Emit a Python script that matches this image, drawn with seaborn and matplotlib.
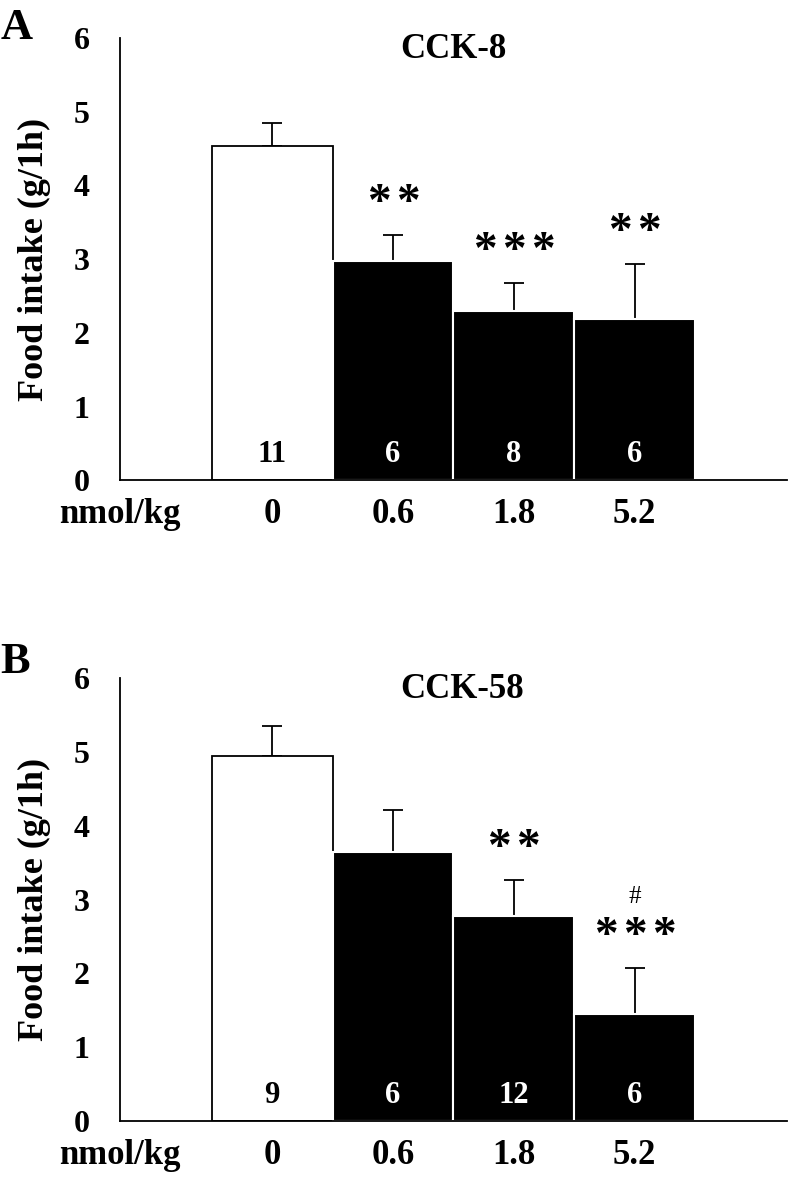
import matplotlib
matplotlib.use("Agg")
import matplotlib.pyplot as plt
import seaborn as sns
import numpy as np

doses = ["0", "0.6", "1.8", "5.2"]

cck8_mean = [4.53, 2.97, 2.29, 2.19]
cck8_err = [0.32, 0.36, 0.38, 0.74]
cck8_n = ["11", "6", "8", "6"]
cck8_sig = ["", "**", "***", "**"]

cck58_mean = [4.95, 3.64, 2.78, 1.45]
cck58_err = [0.40, 0.57, 0.49, 0.63]
cck58_n = ["9", "6", "12", "6"]
cck58_sig = ["", "", "**", "***"]
cck58_hash = ["", "", "", "#"]

bar_colors = ["white", "black", "black", "black"]

sns.set_theme(style="white")
plt.rcParams["font.family"] = ["Liberation Serif", "DejaVu Serif"]
plt.rcParams["font.weight"] = "bold"
for key in ["text.color", "axes.labelcolor", "xtick.color", "ytick.color"]:
    plt.rcParams[key] = "black"

XLEFT, XRIGHT = -1.26, 4.26
STAR_STEP = 0.24


def draw_panel(ax, means, errs, ns, sig, title, title_x=0.5, extra=None):
    sns.barplot(x=doses, y=means, hue=doses, palette=bar_colors, order=doses,
                legend=False, width=1.0, errorbar=None, ax=ax, zorder=2)
    for patch, col in zip(ax.patches, bar_colors):
        if col == "white":
            patch.set_edgecolor("black")
            patch.set_linewidth(1.3)
        else:
            patch.set_edgecolor("white")
            patch.set_linewidth(1.5)
    x = np.arange(len(doses))
    ax.errorbar(x, means, yerr=[np.zeros(len(errs)), errs], fmt="none",
                ecolor="black", elinewidth=1.3, capsize=7, capthick=1.3, zorder=1)

    for xi, m, e, n, s, col in zip(x, means, errs, ns, sig, bar_colors):
        ax.text(xi, 0.35, n, ha="center", va="center", fontsize=22,
                fontweight="bold", color="black" if col == "white" else "white")
        # asterisks spaced out like the original figure
        for k, star in enumerate(s):
            dx = (k - (len(s) - 1) / 2) * STAR_STEP
            ax.text(xi + dx, m + e + 0.42, star, ha="center", va="center",
                    fontsize=34, fontweight="bold", color="black")
    if extra:
        for xi, m, e, h in zip(x, means, errs, extra):
            if h:
                ax.text(xi, m + e + 0.95, h, ha="center", va="center",
                        fontsize=18, fontweight="normal", color="black")

    ax.set_xlim(XLEFT, XRIGHT)
    ax.set_ylim(0, 6)
    ax.set_yticks(range(7))
    ax.set_yticklabels([str(v) for v in range(7)], fontsize=23, fontweight="bold")
    ax.set_xticks([XLEFT] + list(x))
    ax.set_xticklabels(["nmol/kg"] + doses, fontsize=25, fontweight="bold")
    ax.set_xticks([XLEFT, XRIGHT], minor=True)
    ax.tick_params(axis="x", which="major", length=0, pad=13)
    ax.tick_params(axis="x", which="minor", length=8, width=1.3, direction="out",
                   color="black")
    ax.tick_params(axis="y", length=8, width=1.3, direction="out", color="black", pad=14)
    ax.set_ylabel("Food intake (g/1h)", fontsize=26, fontweight="bold", labelpad=16)
    ax.set_xlabel("")
    for side in ["top", "right"]:
        ax.spines[side].set_visible(False)
    for side in ["left", "bottom"]:
        ax.spines[side].set_color("black")
        ax.spines[side].set_linewidth(1.3)
    ax.text(title_x, 0.975, title, transform=ax.transAxes, ha="center", va="center",
            fontsize=25, fontweight="bold")


fig = plt.figure(figsize=(7.92, 11.8), dpi=100)
ax_a = fig.add_axes([0.1515, 0.593, 0.842, 0.3748])
ax_b = fig.add_axes([0.1515, 0.05, 0.842, 0.3752])

draw_panel(ax_a, cck8_mean, cck8_err, cck8_n, cck8_sig, "CCK-8")
draw_panel(ax_b, cck58_mean, cck58_err, cck58_n, cck58_sig, "CCK-58",
           title_x=0.513, extra=cck58_hash)

fig.text(17 / 792, 1 - 28 / 1180, "A", ha="center", va="center", fontsize=32,
         fontweight="bold")
fig.text(15 / 792, 1 - 662 / 1180, "B", ha="center", va="center", fontsize=32,
         fontweight="bold")

fig.savefig("out.png", dpi=100)
